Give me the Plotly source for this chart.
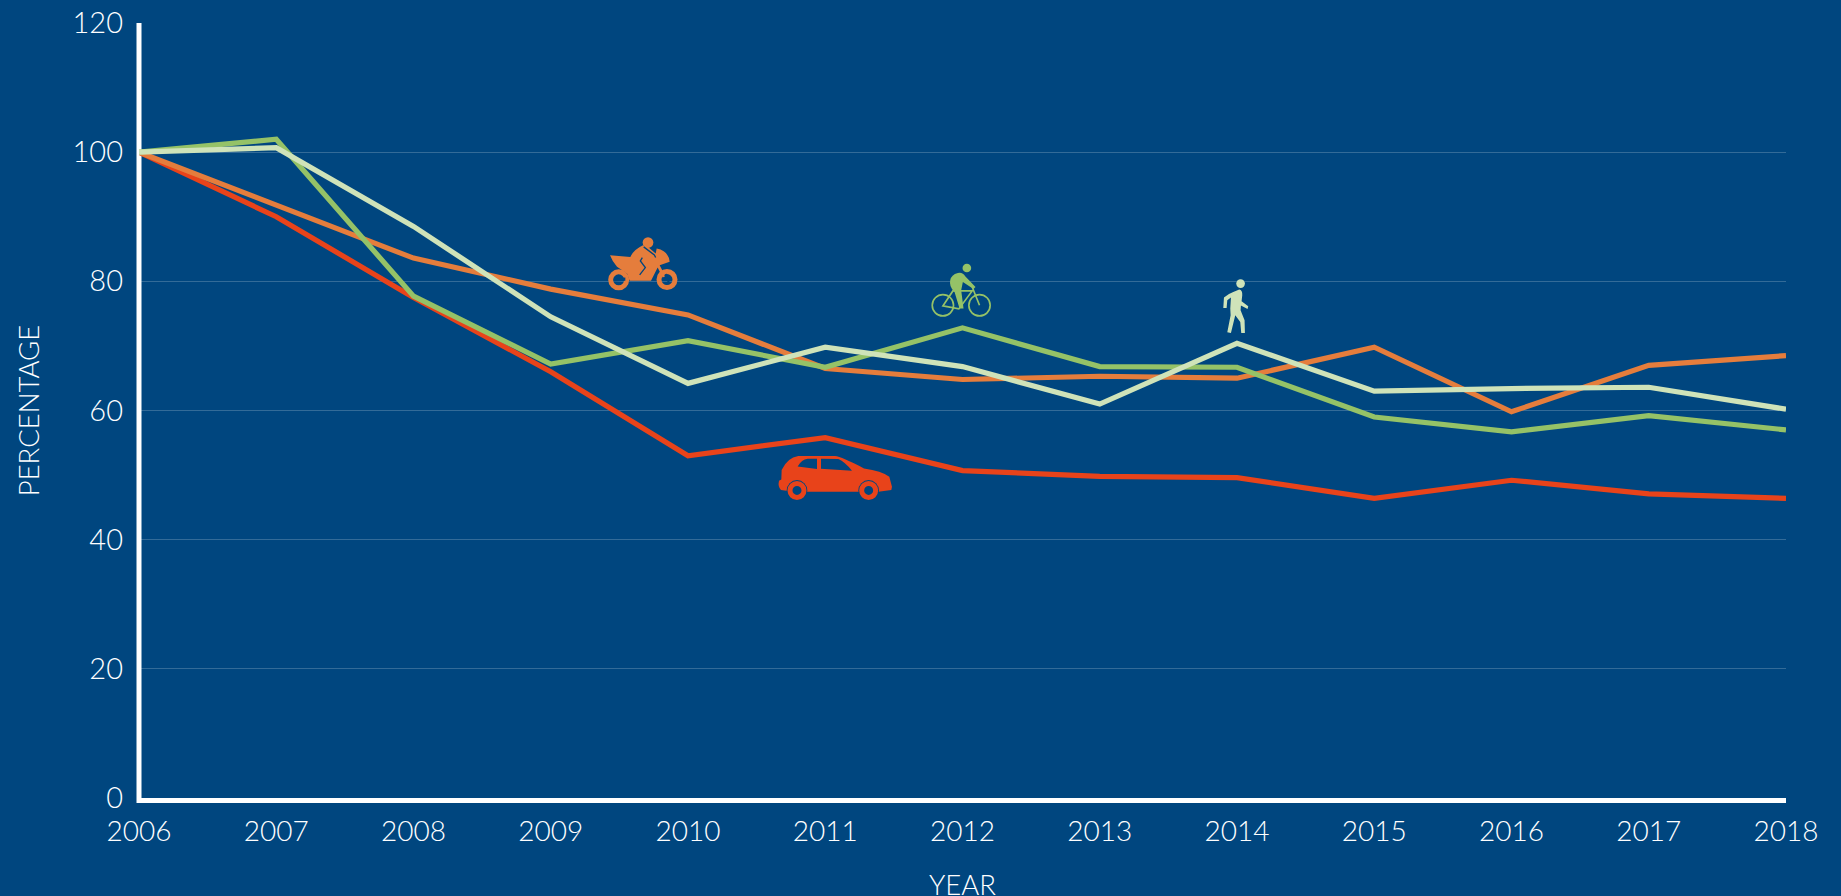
import base64
import plotly.graph_objects as go

years = list(range(2006, 2019))
car = [100, 90, 77.5, 66, 53, 55.8, 50.7, 49.8, 49.6, 46.4, 49.2, 47.1, 46.4]
motorcycle = [100, 91.7, 83.6, 78.8, 74.8, 66.5, 64.8, 65.3, 65, 69.8, 59.8, 67, 68.5]
bicycle = [100, 102, 77.7, 67.2, 70.8, 66.7, 72.8, 66.8, 66.7, 59, 56.7, 59.2, 57]
pedestrian = [100, 100.7, 88.5, 74.5, 64.2, 69.8, 66.8, 61, 70.4, 63, 63.4, 63.6, 60.2]
y_ticks = [0, 20, 40, 60, 80, 100, 120]

BG = "#00467f"
CAR = "#e8431a"
MOTO = "#e57d3c"
BIKE = "#95c267"
PED = "#cfe3b9"
TEXT = "#ffffff"
FONT = "Lato Light, Lato, sans-serif"


def svg_uri(viewbox, body):
    w, h = viewbox.split()[2:]
    s = f'<svg xmlns="http://www.w3.org/2000/svg" viewBox="{viewbox}" width="{w}" height="{h}">{body}</svg>'
    return "data:image/svg+xml;base64," + base64.b64encode(s.encode()).decode()


car_svg = svg_uri("590 700 350 145", f'''
<path fill="{CAR}" d="M597,782 L604,778 L605,750 Q622,713 655,708 L765,708 Q785,710 852,745 Q905,752 928,770 L936,800 L934,810 L895,815 L640,815 L603,810 Q593,800 597,782 Z"/>
<path fill="{BG}" d="M653,739 Q665,718 683,716 L711,716 L711,747 Z M723,716 L775,717 Q795,726 816,752 L723,746 Z"/>
<circle cx="651" cy="811" r="31" fill="{BG}"/><circle cx="866" cy="811" r="31" fill="{BG}"/>
<circle cx="651" cy="811" r="21" fill="none" stroke="{CAR}" stroke-width="15"/>
<circle cx="866" cy="811" r="21" fill="none" stroke="{CAR}" stroke-width="15"/>''')

moto_svg = svg_uri("80 45 215 170", f'''
<circle cx="115" cy="179" r="24" fill="none" stroke="{MOTO}" stroke-width="15"/>
<circle cx="260" cy="178" r="24" fill="none" stroke="{MOTO}" stroke-width="15"/>
<path fill="{MOTO}" d="M89,105 L150,110 Q160,88 188,75 L205,82 L226,100 L229,85 Q265,92 268,125 L238,135 L255,168 L247,172 L232,142 L212,182 L148,182 L140,160 L110,140 Q95,122 89,105 Z"/>
<path fill="{BG}" d="M100,176 L135,172 L135,182 L100,184 Z M258,160 L268,185 L262,186 L252,165 Z"/>
<circle cx="203" cy="67" r="16" fill="{MOTO}"/>
<path fill="none" stroke="{BG}" stroke-width="4" d="M186,112 L180,122 L195,142 L178,164 M190,80 L222,104 L226,112"/>''')

bike_svg = svg_uri("90 65 190 170", f'''
<g fill="none" stroke="{BIKE}" stroke-width="5">
<circle cx="130" cy="195" r="32"/><circle cx="240" cy="195" r="32"/>
<path d="M130,197 L160,152 L218,152 L178,206 Z M218,140 L240,195"/></g>
<circle cx="202" cy="83" r="13" fill="{BIKE}"/>
<path fill="{BIKE}" d="M175,98 Q190,95 197,108 L228,140 L222,146 L190,125 L185,150 L192,205 L180,205 L165,155 Q148,140 152,120 Q155,103 175,98 Z"/>''')

ped_svg = svg_uri("965 110 85 175", f'''
<circle cx="1022" cy="130" r="13" fill="{PED}"/>
<path fill="{PED}" d="M1000,155 L1018,148 Q1028,150 1027,165 L1025,183 L1045,198 L1043,206 L1023,196 L1022,210 L1034,240 L1035,278 L1024,278 L1021,245 L1006,225 L993,278 L982,276 L992,225 L991,205 L993,172 L982,180 L980,203 L970,203 L972,172 Q985,160 1000,155 Z"/>''')

fig = go.Figure()
for name, vals, col in [("Car", car, CAR), ("Motorcycle", motorcycle, MOTO),
                        ("Bicycle", bicycle, BIKE), ("Pedestrian", pedestrian, PED)]:
    fig.add_trace(go.Scatter(x=years, y=vals, name=name, mode="lines", showlegend=False,
                             line=dict(color=col, width=5.2, shape="linear")))

# icon placement: (image, left year, top value, width in years, height in value units)
icons = [
    (moto_svg, 2009.41, 87.14, 0.522, 8.77),
    (car_svg, 2010.646, 53.35, 0.85, 7.48),
    (bike_svg, 2011.76, 83.0, 0.461, 8.77),
    (ped_svg, 2013.888, 80.68, 0.206, 9.03),
]
images = [dict(source=s, xref="x", yref="y", x=x, y=y, sizex=sx, sizey=sy,
               xanchor="left", yanchor="top", sizing="stretch", layer="above")
          for s, x, y, sx, sy in icons]

fig.update_layout(
    width=1841, height=896, autosize=False,
    paper_bgcolor=BG, plot_bgcolor=BG,
    margin=dict(l=139, r=55, t=23, b=98, pad=0),
    font=dict(family=FONT, color=TEXT, size=28),
    showlegend=False, images=images,
    shapes=[dict(type="line", xref="paper", yref="paper", x0=0, x1=0, y0=-0.0065, y1=1,
                 line=dict(color=TEXT, width=5), layer="below")],
    annotations=[dict(text="YEAR", xref="paper", yref="paper", x=0.5, y=0, yshift=-86,
                      xanchor="center", yanchor="middle", showarrow=False,
                      font=dict(family=FONT, size=27.5, color=TEXT))],
    xaxis=dict(range=[2006, 2018], tickmode="array", tickvals=years, ticktext=[str(y) for y in years],
               automargin=False, showgrid=False, zeroline=False, showline=True, linecolor=TEXT, linewidth=5,
               ticks="", ticklabelstandoff=4, tickfont=dict(family=FONT, size=28, color=TEXT)),
    yaxis=dict(range=[0, 120], tickmode="array", tickvals=y_ticks, automargin=False,
               showgrid=True, gridcolor="rgba(255,255,255,0.2)", gridwidth=1.2, zeroline=False,
               showline=False, ticks="", ticklabelstandoff=15,
               tickfont=dict(family=FONT, size=29, color=TEXT),
               title=dict(text="PERCENTAGE", font=dict(family=FONT, size=27.5, color=TEXT), standoff=24)),
)

fig.write_html("out.html", config=dict(displayModeBar=False),
               post_script="document.body.style.margin='0';document.documentElement.style.overflow='hidden';")
